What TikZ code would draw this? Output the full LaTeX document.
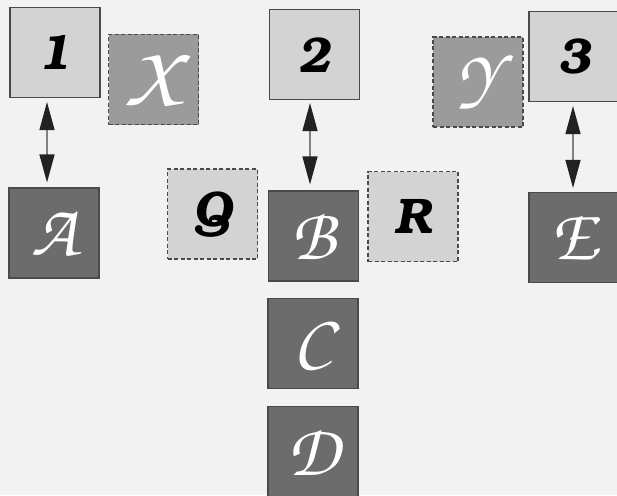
\documentclass[tikz,border=0pt]{standalone}
\usepackage[T1,TU]{fontenc}
\usepackage{graphicx}
\usetikzlibrary{arrows.meta}
\definecolor{pagebg}{HTML}{F2F2F2}
\definecolor{lightfill}{HTML}{D3D3D3}
\definecolor{midfill}{HTML}{9B9B9B}
\definecolor{darkfill}{HTML}{6C6C6C}
\definecolor{edgecol}{HTML}{4A4A4A}
\definecolor{shaftcol}{HTML}{808080}
\definecolor{tipcol}{HTML}{222222}
\newcommand{\numfont}{\fontencoding{T1}\fontfamily{pbk}\fontseries{db}\fontshape{it}\fontsize{50}{54}\selectfont}
\newcommand{\chfont}{\fontencoding{T1}\fontfamily{pzc}\fontseries{mb}\fontshape{it}\fontsize{64}{68}\selectfont}
\newcommand{\bigx}[1]{\scalebox{1.5}[1.35]{#1}}
\newcommand{\bigy}[1]{\scalebox{1.15}[1.1]{#1}}
\newcommand{\bigu}[1]{\scalebox{1.15}{#1}}
\tikzset{
  sq/.style={rectangle, minimum width=90pt, minimum height=90pt, inner sep=0pt, line width=1.1pt, draw=edgecol},
  numbox/.style={sq, fill=lightfill, text=black, font=\numfont},
  letbox/.style={sq, fill=lightfill, dash pattern=on 4pt off 2.5pt, text=black, font=\numfont},
  scrbox/.style={sq, fill=midfill, dash pattern=on 4pt off 2.5pt, text=white, font=\chfont},
  darkbox/.style={sq, fill=darkfill, text=white, font=\chfont},
  link/.style={draw=shaftcol, line width=1.2pt, {Triangle[length=28pt,width=15pt,fill=tipcol,color=tipcol]}-{Triangle[length=28pt,width=15pt,fill=tipcol,color=tipcol]}}
}
\begin{document}
\begin{tikzpicture}[x=1pt,y=-1pt]
\clip (0,0) rectangle (617,495);
\fill[pagebg] (0,0) rectangle (617,495);
\node[numbox] (n1) at (55,52.5) {1};
\node[scrbox] (nx) at (153.5,79.5) {\bigx{X}};
\node[numbox] (n2) at (314.5,54.5) {2};
\node[scrbox] (ny) at (478,82) {\bigy{Y}};
\node[numbox] (n3) at (574,56.5) {3};
\node[darkbox] (na) at (54,233) {\bigu{A}};
\node[letbox] (nq) at (212.5,214) {Q};
\node[darkbox] (nb) at (313.5,236) {\bigu{B}};
\node[letbox] (nr) at (413,216.5) {R};
\node[darkbox] (ne) at (574,237.5) {\bigu{E}};
\node[darkbox] (nc) at (313,343.5) {\bigu{C}};
\node[darkbox] (nd) at (313,451.5) {\bigu{D}};
\coordinate (a1) at ([xshift=-8pt,yshift=-4pt]n1.south);
\coordinate (a2) at ([xshift=-7pt,yshift=5pt]na.north);
\coordinate (b1) at ([xshift=-4.5pt,yshift=-3pt]n2.south);
\coordinate (b2) at ([xshift=-3.5pt,yshift=6pt]nb.north);
\coordinate (e1) at ([xshift=-1pt,yshift=-4pt]n3.south);
\coordinate (e2) at ([xshift=-1pt,yshift=4pt]ne.north);
\draw[link] (a1) -- (a2);
\draw[link] (b1) -- (b2);
\draw[link] (e1) -- (e2);
\end{tikzpicture}
\end{document}
